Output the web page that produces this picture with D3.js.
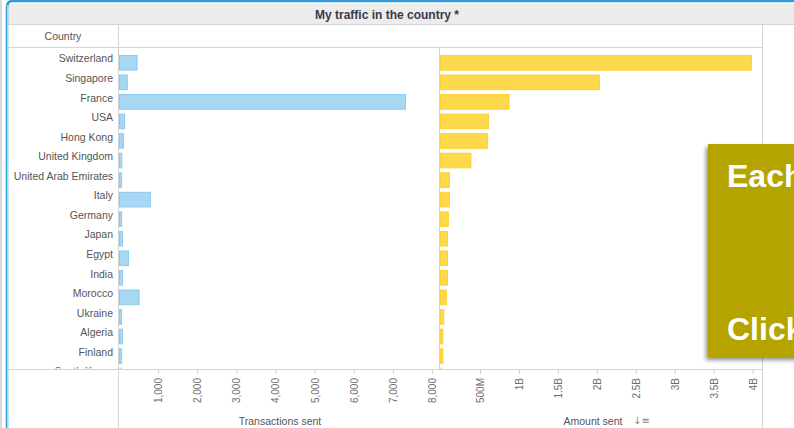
<!DOCTYPE html>
<html>
<head>
<meta charset="utf-8">
<script src="https://cdn.jsdelivr.net/npm/d3@7"></script>
<style>
  body { margin: 0; background: #fff; }
  svg { display: block; font-family: "Liberation Sans", Arial, sans-serif; }
  .axis text { fill: #6e6e6e; font-size: 10px; }
  .axis line { stroke: #cfcfcf; }
  .row-label { fill: #555; font-size: 10.5px; }
  .axis-label { fill: #555; font-size: 10.5px; }
</style>
</head>
<body>
<div id="chart"></div>
<script>
// Data
const countries = ["Switzerland", "Singapore", "France", "USA", "Hong Kong", "United Kingdom",
  "United Arab Emirates", "Italy", "Germany", "Japan", "Egypt", "India", "Morocco",
  "Ukraine", "Algeria", "Finland", "South Korea"];
const transactions = [450, 200, 7310, 130, 100, 60, 55, 790, 55, 75, 230, 75, 500, 50, 75, 55, 50];
const amounts = [3.99e9, 2.04e9, 0.88e9, 0.615e9, 0.605e9, 0.39e9, 0.115e9, 0.115e9, 0.10e9,
  0.09e9, 0.09e9, 0.09e9, 0.075e9, 0.042e9, 0.03e9, 0.03e9, 0.02e9];
const transTicks = [1000, 2000, 3000, 4000, 5000, 6000, 7000, 8000];
const amountTicks = [0.5e9, 1e9, 1.5e9, 2e9, 2.5e9, 3e9, 3.5e9, 4e9];

const data = countries.map((c, i) => ({ country: c, trans: transactions[i], amount: amounts[i] }));

const width = 794, height = 428;
const axisY = 369;

const svg = d3.select("#chart").append("svg")
  .attr("width", width)
  .attr("height", height);

const defs = svg.append("defs");
defs.append("clipPath").attr("id", "plot-clip")
  .append("rect").attr("x", 0).attr("y", 47).attr("width", width).attr("height", axisY - 47 - 0.5);
const shadow = defs.append("filter").attr("id", "shadow")
  .attr("x", "-20%").attr("y", "-20%").attr("width", "140%").attr("height", "140%");
shadow.append("feDropShadow")
  .attr("dx", -2).attr("dy", 3).attr("stdDeviation", 2)
  .attr("flood-color", "#000").attr("flood-opacity", 0.45);

// Frame
svg.append("rect").attr("x", 0).attr("y", 0).attr("width", 2).attr("height", height).attr("fill", "#d9d9d9");
svg.append("rect").attr("x", 8).attr("y", 4).attr("width", width - 8).attr("height", 20).attr("fill", "#ececec");
svg.append("path")
  .attr("d", `M7,${height} V7 Q7,1 13,1 H${width}`)
  .attr("fill", "none").attr("stroke", "#2f9bd8").attr("stroke-width", 2.5);
svg.append("line").attr("x1", 7.5).attr("x2", 7.5).attr("y1", 5).attr("y2", height)
  .attr("stroke", "#cccccc");
svg.append("line").attr("x1", 8).attr("x2", width).attr("y1", 24.5).attr("y2", 24.5)
  .attr("stroke", "#d4d4d4");
svg.append("line").attr("x1", 8).attr("x2", 762).attr("y1", 47.5).attr("y2", 47.5)
  .attr("stroke", "#d4d4d4");
svg.append("line").attr("x1", 8).attr("x2", 762).attr("y1", axisY + 0.5).attr("y2", axisY + 0.5)
  .attr("stroke", "#d4d4d4");
svg.append("line").attr("x1", 118.5).attr("x2", 118.5).attr("y1", 24).attr("y2", height)
  .attr("stroke", "#d4d4d4");
svg.append("line").attr("x1", 439.5).attr("x2", 439.5).attr("y1", 47).attr("y2", axisY)
  .attr("stroke", "#d4d4d4");
svg.append("line").attr("x1", 762.5).attr("x2", 762.5).attr("y1", 24).attr("y2", height)
  .attr("stroke", "#d4d4d4");

// Title and header
svg.append("text")
  .attr("x", 387).attr("y", 15).attr("dy", "0.35em")
  .attr("text-anchor", "middle")
  .attr("font-size", 12).attr("font-weight", "bold").attr("fill", "#3a3a48")
  .text("My traffic in the country *");

svg.append("text")
  .attr("class", "row-label")
  .attr("x", 63).attr("y", 36).attr("dy", "0.35em")
  .attr("text-anchor", "middle")
  .text("Country");

// Scales
const y = d3.scaleBand()
  .domain(countries)
  .range([53, 53 + countries.length * 19.55])
  .paddingInner(0.2)
  .paddingOuter(0.1);

const xL = d3.scaleLinear().domain([0, 8180]).range([119, 439]);
const xR = d3.scaleLinear().domain([0, 4.12e9]).range([441, 762]);

const plot = svg.append("g").attr("clip-path", "url(#plot-clip)");

// Row labels
plot.selectAll(".row-label")
  .data(data)
  .join("text")
  .attr("class", "row-label")
  .attr("x", 113)
  .attr("y", d => y(d.country) + y.bandwidth() / 2 - 4)
  .attr("dy", "0.35em")
  .attr("text-anchor", "end")
  .text(d => d.country);

// Transactions bars
plot.selectAll(".bar-t")
  .data(data)
  .join("rect")
  .attr("class", "bar-t")
  .attr("x", xL(0) + 0.5)
  .attr("y", d => y(d.country) + 0.5)
  .attr("width", d => Math.max(1, xL(d.trans) - xL(0)))
  .attr("height", y.bandwidth() - 1)
  .attr("fill", "#a8d7f4")
  .attr("stroke", "#8ccaf0");

// Amount bars
plot.selectAll(".bar-a")
  .data(data)
  .join("rect")
  .attr("class", "bar-a")
  .attr("x", xR(0) - 0.5)
  .attr("y", d => y(d.country) + 0.5)
  .attr("width", d => Math.max(1, xR(d.amount) - xR(0)))
  .attr("height", y.bandwidth() - 1)
  .attr("fill", "#ffd94c")
  .attr("stroke", "#ffcf33");

// Axes
function styleAxis(g) {
  g.select(".domain").remove();
  g.selectAll(".tick text")
    .attr("transform", "rotate(-90)")
    .attr("text-anchor", "end")
    .attr("x", -9)
    .attr("y", 0)
    .attr("dy", "0.35em");
}

svg.append("g")
  .attr("class", "axis")
  .attr("transform", `translate(0, ${axisY})`)
  .call(d3.axisBottom(xL).tickValues(transTicks).tickFormat(d3.format(",")).tickSize(5).tickSizeOuter(0))
  .call(styleAxis);

svg.append("g")
  .attr("class", "axis")
  .attr("transform", `translate(0, ${axisY})`)
  .call(d3.axisBottom(xR).tickValues(amountTicks)
    .tickFormat(d => d >= 1e9 ? (d / 1e9) + "B" : (d / 1e6) + "M")
    .tickSize(5).tickSizeOuter(0))
  .call(styleAxis);

svg.append("text")
  .attr("class", "axis-label")
  .attr("x", 593).attr("y", 421).attr("dy", "0.35em")
  .attr("text-anchor", "middle")
  .text("Amount sent");

svg.append("text")
  .attr("class", "axis-label")
  .attr("x", 280).attr("y", 421).attr("dy", "0.35em")
  .attr("text-anchor", "middle")
  .text("Transactions sent");

svg.append("text")
  .attr("x", 633).attr("y", 420).attr("dy", "0.35em")
  .attr("font-size", 10).attr("fill", "#8a8a8a")
  .attr("font-family", "DejaVu Sans")
  .text("↓≡");

// Overlay tip box
const tip = svg.append("g");
tip.append("rect")
  .attr("x", 708).attr("y", 144).attr("width", 100).attr("height", 213)
  .attr("fill", "#b5a400")
  .attr("filter", "url(#shadow)");
tip.append("text")
  .attr("x", 727).attr("y", 187)
  .attr("font-size", 32).attr("font-weight", "bold").attr("fill", "#fff")
  .text("Each");
tip.append("text")
  .attr("x", 727).attr("y", 340)
  .attr("font-size", 32).attr("font-weight", "bold").attr("fill", "#fff")
  .text("Click");
</script>
</body>
</html>
